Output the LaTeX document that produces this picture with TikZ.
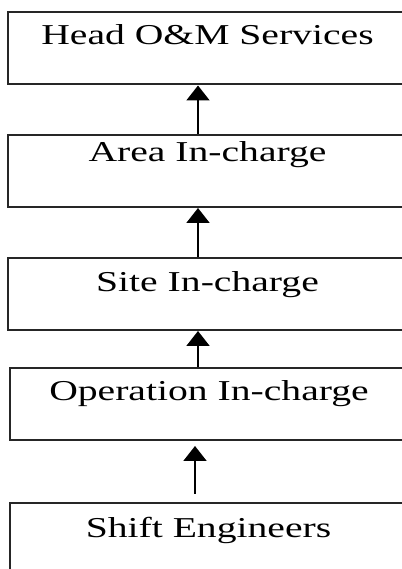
\documentclass[tikz,border=0pt]{standalone}
\usepackage{fontspec}
\setmainfont{Liberation Serif}
\usetikzlibrary{arrows.meta}
\tikzset{
  box/.style={draw=black!85, line width=1pt, minimum width=199pt, minimum height=36pt, inner sep=0pt},
  lbl/.style={anchor=base, inner sep=0pt, font=\fontsize{14.4}{16}\selectfont, xscale=1.376},
  up/.style={-{Triangle[width=11.5pt,length=7.5pt]}, line width=1pt}
}
\begin{document}
\begin{tikzpicture}[x=0.5pt,y=0.5pt]
  \useasboundingbox (0,0) rectangle (402,569);
  \clip (0,0) rectangle (402,569);
  % boxes
  \node[box] (head) at (207,520.5) {};
  \node[box] (area) at (207,398) {};
  \node[box] (site) at (207,275) {};
  \node[box] (oper) at (209,165) {};
  \node[box] (shift) at (209,30) {};
  % labels
  \node[lbl] (headtxt) at (207.5,524) {Head O\&M Services};
  \node[lbl] (areatxt) at (207.5,407) {Area In-charge};
  \node[lbl] (sitetxt) at (207.5,278) {Site In-charge};
  \node[lbl] (opertxt) at (209,169) {Operation In-charge};
  \node[lbl] (shifttxt) at (208.5,32) {Shift Engineers};
  % arrows
  \draw[up] ([xshift=-4.5pt]area.north) -- ([xshift=-4.5pt]head.south);
  \draw[up] ([xshift=-4.5pt]site.north) -- ([xshift=-4.5pt]area.south);
  \draw[up] ([xshift=-5.5pt]oper.north) -- ([xshift=-4.5pt]site.south);
  \draw[up, shorten <=4pt, shorten >=2.5pt] ([xshift=-7pt]shift.north) -- ([xshift=-7pt]oper.south);
\end{tikzpicture}
\end{document}
